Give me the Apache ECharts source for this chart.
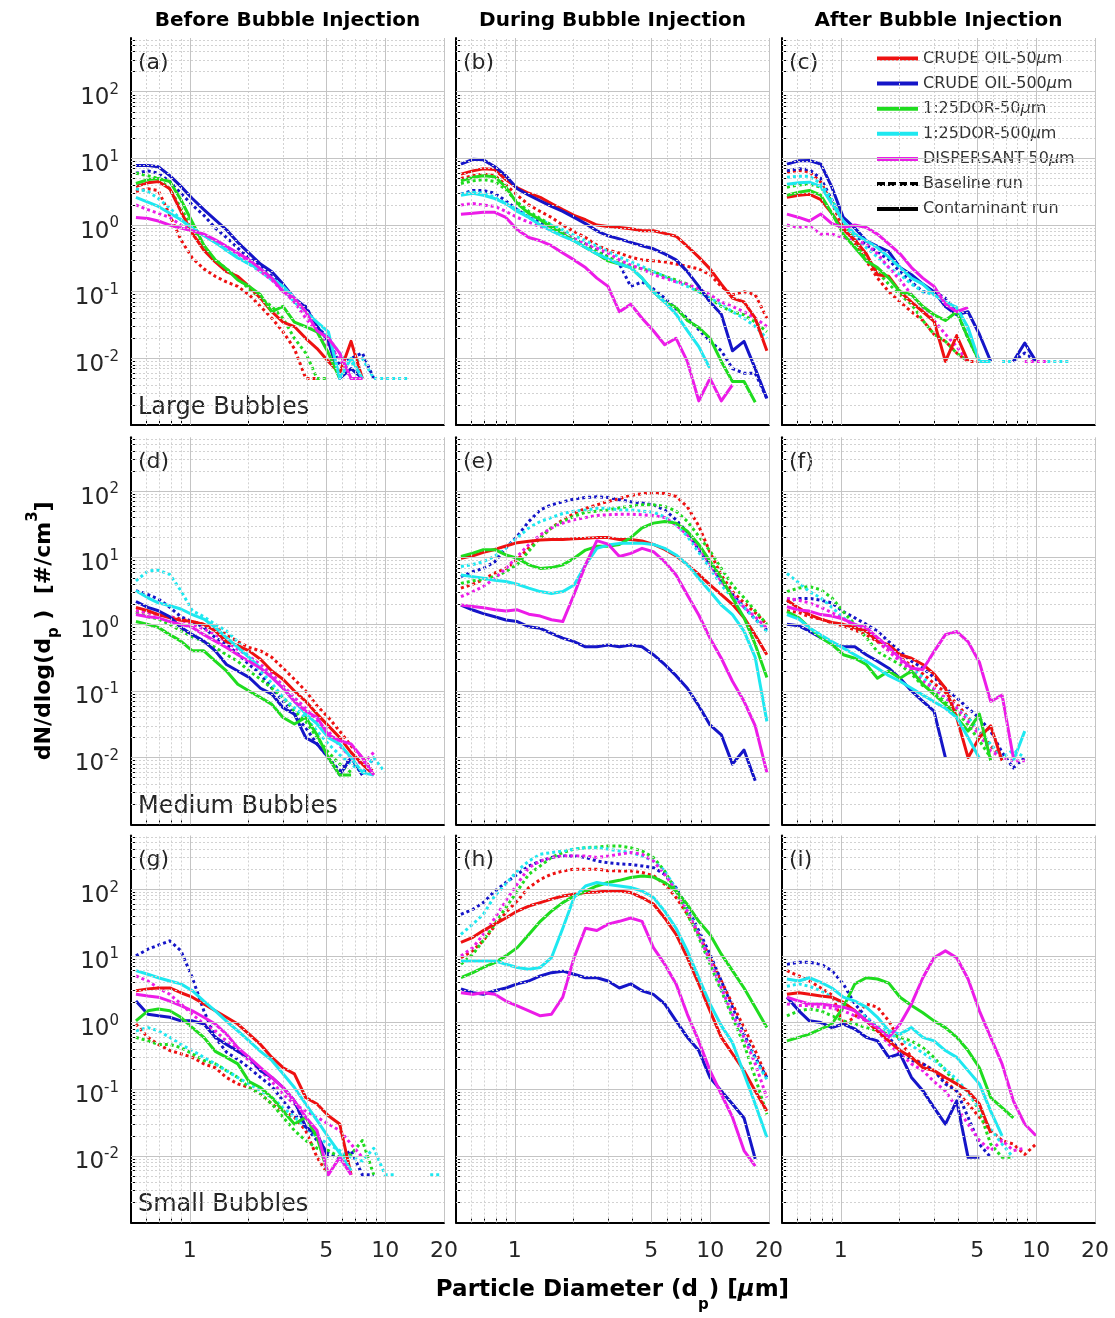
<!DOCTYPE html>
<html><head><meta charset="utf-8">
<script src="https://cdn.jsdelivr.net/npm/echarts@6/dist/echarts.min.js"></script>
<style>html,body{margin:0;padding:0;background:#fff}#c{width:1115px;height:1318px}</style>
</head><body><div id="c"></div>
<script>
// ---------- categories / labels ----------
const DP = [0.53,0.61,0.69,0.79,0.90,1.03,1.18,1.35,1.54,1.76,2.01,2.30,2.63,3.00,3.43,3.92,4.48,5.12,5.85,6.69,7.64,8.74,9.98,11.4,13.0,14.9,17.0,19.5];
const GROUPS = ['CRUDE OIL-50μm','CRUDE OIL-500μm','1:25DOR-50μm','1:25DOR-500μm','DISPERSANT-50μm'];
const COLORS = ['#ee1111','#1515c8','#1fdc1f','#1ee8f0','#ec1ce8'];
const PHASES = ['Before Bubble Injection','During Bubble Injection','After Bubble Injection'];
const SIZES = ['Large Bubbles','Medium Bubbles','Small Bubbles'];
const TAGS = ['(a)','(b)','(c)','(d)','(e)','(f)','(g)','(h)','(i)'];
const X_LABELS = [1,5,10,20];
const Y_LABELS = [0.01,0.1,1,10,100];
const X_RANGE = [0.5,20];
const Y_RANGE = [0.001,640];

// ---------- series values (order: red, blue, green, cyan, magenta) ----------
const A_BASE = [
 [3.2,3.5,3.3,1.4,0.6,0.32,0.22,0.17,0.14,0.12,0.09,0.06,0.04,0.025,0.014,0.005,0.005],
 [6,6.5,6,4.5,3,2,1.4,0.9,0.65,0.45,0.32,0.25,0.17,0.12,0.07,0.06,0.03,0.02,0.008,0.01,0.012,0.005],
 [6,5.5,5,3.5,1.8,0.9,0.45,0.3,0.22,0.16,0.11,0.08,0.06,0.04,0.02,0.012,0.005,0.005],
 [3.5,3.2,2.5,1.8,1.2,0.9,0.7,0.55,0.42,0.33,0.26,0.2,0.15,0.11,0.07,0.05,0.03,0.02,0.012,0.008,0.01,0.005,0.005,0.005,0.005],
 [2,1.7,1.5,1.3,1.0,0.85,0.7,0.55,0.45,0.37,0.28,0.2,0.15,0.1,0.07,0.04,0.025,0.015,0.01,0.005,0.005]
];
const A_CONT = [
 [3.8,4.3,4.5,3.5,1.6,0.75,0.42,0.28,0.2,0.17,0.12,0.08,0.05,0.035,0.03,0.02,0.014,0.009,0.006,0.018,0.005],
 [7.8,7.8,7.5,5.5,3.8,2.5,1.7,1.2,0.85,0.55,0.38,0.26,0.2,0.13,0.08,0.058,0.03,0.018,0.005,0.007,0.005],
 [4.2,4.8,5.0,4.5,2.4,1.1,0.5,0.3,0.22,0.15,0.12,0.09,0.05,0.06,0.035,0.03,0.025,0.012,0.005],
 [2.6,2.2,1.9,1.5,1.2,0.9,0.7,0.55,0.42,0.32,0.26,0.22,0.16,0.12,0.08,0.05,0.035,0.025,0.005,0.01,0.005],
 [1.3,1.25,1.15,1.0,0.9,0.82,0.73,0.6,0.48,0.38,0.3,0.22,0.16,0.1,0.08,0.05,0.026,0.02,0.012,0.005,0.005]
];
const B_BASE = [
 [5.0,5.5,5.8,5.5,4.0,2.8,2.0,1.6,1.3,1.0,0.8,0.65,0.5,0.42,0.38,0.33,0.3,0.29,0.28,0.26,0.24,0.22,0.18,0.12,0.09,0.1,0.09,0.04],
 [2.9,3.3,3.3,3.0,2.3,1.7,1.3,1.1,0.95,0.75,0.62,0.52,0.42,0.33,0.26,0.12,0.14,0.11,0.08,0.055,0.04,0.027,0.018,0.013,0.007,0.006,0.006,0.0025],
 [4.2,4.6,4.8,4.5,3.4,2.2,1.6,1.25,1.0,0.8,0.62,0.5,0.4,0.33,0.28,0.24,0.22,0.2,0.17,0.15,0.13,0.1,0.08,0.06,0.05,0.045,0.035,0.025],
 [2.9,3.1,3.0,2.6,2.1,1.7,1.4,1.2,1.0,0.85,0.7,0.58,0.48,0.4,0.33,0.28,0.24,0.2,0.17,0.14,0.12,0.1,0.08,0.065,0.05,0.04,0.03,0.02],
 [2.0,2.1,2.0,1.9,1.6,1.3,1.1,0.95,0.85,0.75,0.62,0.52,0.45,0.38,0.3,0.25,0.22,0.18,0.16,0.14,0.13,0.11,0.09,0.07,0.06,0.05,0.04,0.03]
];
const B_CONT = [
 [5.8,6.5,7.0,6.8,4.8,3.6,3.0,2.6,2.1,1.7,1.4,1.2,1.0,0.95,0.92,0.88,0.82,0.82,0.75,0.68,0.48,0.33,0.22,0.13,0.08,0.07,0.04,0.013],
 [8.2,9.7,9.5,7.5,5.5,3.5,2.8,2.3,1.9,1.6,1.3,1.05,0.82,0.69,0.62,0.55,0.49,0.44,0.37,0.3,0.2,0.12,0.07,0.046,0.013,0.018,0.007,0.0025],
 [4.6,5.2,5.5,5.3,3.7,2.1,1.5,1.2,0.92,0.73,0.58,0.46,0.37,0.29,0.26,0.23,0.16,0.1,0.07,0.058,0.037,0.029,0.02,0.009,0.0045,0.0045,0.0022],
 [2.8,3.0,2.8,2.5,2.1,1.6,1.3,1.0,0.82,0.68,0.58,0.46,0.37,0.31,0.26,0.23,0.16,0.1,0.07,0.046,0.026,0.015,0.007],
 [1.45,1.5,1.55,1.55,1.3,0.85,0.65,0.58,0.49,0.38,0.3,0.23,0.16,0.12,0.05,0.065,0.04,0.026,0.016,0.02,0.009,0.0023,0.005,0.0023,0.004]
];
const C_BASE = [
 [6.2,6.6,6.3,4.4,2.1,0.92,0.52,0.29,0.16,0.1,0.07,0.05,0.037,0.023,0.018,0.012,0.009,0.009],
 [6.5,7.0,6.8,5.0,2.4,1.1,0.7,0.5,0.4,0.3,0.2,0.14,0.1,0.1,0.08,0.05,0.02,0.009,null,null,0.009,0.012,0.009],
 [3.7,4.0,4.1,3.7,2.3,1.15,0.58,0.32,0.2,0.13,0.09,0.065,0.037,0.023,0.018,0.012,0.009],
 [5.2,5.4,5.4,4.2,2.4,1.15,0.62,0.46,0.33,0.23,0.18,0.13,0.1,0.09,0.07,0.046,0.023,0.009,null,0.009,0.009,null,null,0.009,0.009,0.009],
 [1.0,0.92,0.97,0.73,0.73,0.65,0.58,0.52,0.37,0.23,0.15,0.09,0.058,0.037,0.023,0.015,0.009,null,null,null,null,0.009,0.009,0.009]
];
const C_CONT = [
 [2.6,2.8,2.9,2.4,1.5,0.85,0.6,0.37,0.18,0.17,0.1,0.07,0.05,0.036,0.009,0.022,0.009],
 [8.2,9.2,9.3,8.2,3.7,1.3,0.9,0.58,0.48,0.4,0.23,0.18,0.13,0.1,0.06,0.045,0.05,0.023,0.009,null,0.009,0.017,0.009],
 [2.8,3.1,3.3,2.8,1.5,0.73,0.46,0.29,0.23,0.16,0.1,0.09,0.06,0.045,0.037,0.05,0.02,0.009],
 [4.1,4.3,4.4,3.8,2.1,1.15,0.73,0.58,0.46,0.33,0.23,0.16,0.13,0.09,0.07,0.058,0.029,0.009,0.009],
 [1.46,1.3,1.15,1.46,1.05,0.92,1.0,0.92,0.73,0.52,0.37,0.23,0.16,0.12,0.065,0.05,0.058]
];
const D_BASE = [
 [1.6,1.5,1.4,1.3,1.2,1.1,1.0,0.9,0.7,0.55,0.45,0.4,0.32,0.22,0.15,0.1,0.06,0.04,0.025,0.015,0.01,0.006],
 [3.2,2.8,2.4,1.8,1.3,1.1,0.9,0.63,0.5,0.36,0.25,0.18,0.11,0.07,0.045,0.028,0.016,0.01,0.0063,0.01,0.0055,0.01],
 [1.5,1.3,1.2,1.0,0.8,0.65,0.55,0.45,0.35,0.28,0.2,0.15,0.11,0.08,0.05,0.035,0.02,0.012,0.008,0.006],
 [4.5,6.3,6.5,5.6,3.2,1.6,1.3,1.0,0.8,0.55,0.32,0.2,0.13,0.08,0.056,0.04,0.025,0.016,0.011,0.008,0.006,0.01,0.006],
 [1.6,1.5,1.4,1.3,1.15,1.0,0.85,0.7,0.55,0.42,0.33,0.25,0.18,0.12,0.08,0.055,0.035,0.025,0.015,0.01,0.008,0.012]
];
const D_CONT = [
 [1.8,1.6,1.4,1.25,1.15,1.1,1.0,0.8,0.55,0.48,0.4,0.3,0.2,0.15,0.1,0.07,0.045,0.03,0.02,0.012,0.008,0.0055],
 [2.2,1.8,1.6,1.3,0.9,0.7,0.56,0.4,0.25,0.2,0.16,0.11,0.09,0.056,0.045,0.02,0.016,0.01,0.0055,0.01,0.0055],
 [1.1,1.0,0.9,0.7,0.56,0.4,0.4,0.28,0.2,0.126,0.1,0.08,0.063,0.04,0.032,0.04,0.022,0.01,0.0055,0.0055],
 [3.2,2.5,2.1,1.9,1.7,1.4,1.2,0.9,0.63,0.45,0.32,0.22,0.16,0.11,0.07,0.045,0.032,0.02,0.016,0.01,0.006,0.0055],
 [1.4,1.3,1.25,1.1,1.0,0.9,0.7,0.56,0.45,0.35,0.28,0.22,0.16,0.11,0.07,0.05,0.04,0.022,0.018,0.016,0.01,0.0055]
];
const E_BASE = [
 [3.5,4.0,4.7,5.9,6.9,9.4,14,20,28,37,46,55,62,70,77,86,91,94,92,83,58,30,12,5.5,3.1,2.1,1.5,1.0],
 [5.2,6.2,6.9,8.7,14,21,35,52,62,69,76,80,82,80,74,69,66,62,52,37,24,13,7.8,4.4,2.8,1.8,1.2,0.82],
 [4.1,4.5,4.7,5.2,6.2,7.9,12.6,20,28,35,42,48,50,52,56,59,62,62,59,50,35,21,12.6,6.9,3.9,2.5,1.6,1.0],
 [7.4,7.9,8.7,10.5,14,20,28,35,40,46,50,52,55,55,52,52,50,48,41,31,21,12,6.9,3.9,2.5,1.8,1.2,0.77],
 [2.6,3.1,3.7,4.9,6.9,10.4,15.8,22,28,33,37,40,43,44,45,45,44,43,40,31,22,14,7.9,4.4,2.8,1.8,1.3,0.87]
];
const E_CONT = [
 [9.8,10.7,12,13.3,15,16.8,17.6,18.4,18.8,18.8,19.3,19.5,20,20,18.8,18.8,17.8,15.8,13.3,10.6,7.9,5.6,3.9,2.8,2.0,1.26,0.69,0.35],
 [1.95,1.64,1.45,1.3,1.16,1.1,0.92,0.87,0.73,0.62,0.55,0.46,0.46,0.49,0.46,0.49,0.46,0.35,0.25,0.17,0.11,0.06,0.031,0.022,0.008,0.013,0.0045],
 [10.4,11.7,13.2,13.2,11,9.8,7.8,6.9,7.1,7.8,9.8,13,14.8,14.8,15.8,20,28,33,35,33,25,15.8,8.9,5.0,2.5,1.26,0.5,0.16],
 [5.5,5.2,4.9,4.6,4.4,4.0,3.5,3.1,2.9,3.1,3.9,7.8,13.8,15.5,16.4,16.4,16.4,15.8,13.8,11,7.8,4.9,3.1,1.95,1.4,0.79,0.32,0.035],
 [1.95,1.85,1.78,1.65,1.58,1.65,1.42,1.33,1.17,1.1,2.8,7.8,18,16,10.4,11.6,13.8,12.3,8.7,5.5,2.75,1.38,0.62,0.31,0.14,0.07,0.03,0.006]
];
const F_BASE = [
 [1.6,1.5,1.3,1.2,1.05,0.95,0.82,0.7,0.55,0.42,0.32,0.24,0.18,0.13,0.095,0.065,0.04,0.025,0.015,0.01],
 [2.2,2.45,2.45,2.3,2.1,1.55,1.25,1.0,0.79,0.55,0.39,0.28,0.22,0.16,0.11,0.079,0.055,0.039,0.025,0.012,0.007,0.01],
 [3.1,3.5,3.7,3.3,2.5,1.55,1.0,0.63,0.39,0.31,0.25,0.18,0.12,0.1,0.07,0.049,0.031,0.018,0.01],
 [5.8,4.2,3.1,2.5,1.8,1.25,1.0,0.79,0.63,0.45,0.31,0.22,0.16,0.11,0.079,0.056,0.04,0.025,0.016,0.01,0.013,0.01],
 [2.45,2.3,2.1,1.8,1.5,1.2,0.95,0.79,0.56,0.39,0.28,0.2,0.14,0.11,0.079,0.056,0.035,0.022,0.0126,0.01,0.009,0.009]
];
const F_CONT = [
 [2.3,1.75,1.4,1.2,1.07,1.0,0.89,0.79,0.56,0.49,0.35,0.31,0.25,0.18,0.11,0.04,0.01,0.02,0.03,0.009],
 [1.0,0.95,0.79,0.63,0.52,0.46,0.46,0.35,0.28,0.22,0.155,0.1,0.07,0.05,0.01],
 [1.55,1.25,0.89,0.63,0.5,0.35,0.31,0.25,0.155,0.2,0.155,0.2,0.126,0.089,0.063,0.04,0.025,0.045,0.009],
 [1.4,1.2,0.89,0.69,0.55,0.44,0.35,0.28,0.22,0.17,0.14,0.11,0.087,0.069,0.055,0.04,0.02,0.0098,null,null,0.009,0.025],
 [1.84,1.64,1.58,1.4,1.33,1.2,1.0,0.89,0.63,0.45,0.31,0.22,0.21,0.39,0.7,0.78,0.55,0.27,0.07,0.087,0.01]
];
const G_BASE = [
 [0.95,0.6,0.47,0.38,0.34,0.3,0.24,0.21,0.15,0.12,0.106,0.084,0.06,0.047,0.038,0.024,0.0095,0.0052],
 [10,12.6,14.5,16.8,12,4.7,1.5,0.6,0.36,0.28,0.21,0.15,0.11,0.067,0.042,0.027,0.017,0.011,0.009,0.012,0.0052,0.0052],
 [0.6,0.53,0.47,0.47,0.42,0.34,0.27,0.24,0.19,0.15,0.106,0.084,0.06,0.038,0.024,0.017,0.013,0.012,0.0095,0.0105,0.017,0.0052],
 [0.75,0.84,0.75,0.6,0.47,0.38,0.3,0.24,0.19,0.15,0.12,0.095,0.075,0.053,0.038,0.027,0.019,0.015,0.012,0.0095,0.0084,0.013,0.0052,0.0052,null,null,0.0052,0.0052],
 [5,4.2,3.3,2.65,1.9,1.33,0.95,0.75,0.53,0.38,0.27,0.19,0.13,0.084,0.06,0.047,0.038,0.03,0.024,0.015,0.0095]
];
const G_CONT = [
 [3.0,3.2,3.3,3.3,2.8,2.4,1.9,1.5,1.2,0.95,0.67,0.47,0.3,0.21,0.17,0.075,0.06,0.04,0.03,0.0052],
 [2.1,1.33,1.26,1.2,1.06,1.06,0.95,0.6,0.47,0.37,0.3,0.19,0.15,0.106,0.067,0.027,0.021,0.0095],
 [1.06,1.5,1.6,1.5,1.2,0.84,0.6,0.37,0.3,0.24,0.13,0.106,0.075,0.047,0.03,0.038,0.019,0.0052],
 [6,5.3,4.7,4.2,3.8,3.0,2.1,1.5,1.05,0.75,0.53,0.37,0.27,0.17,0.106,0.06,0.034,0.019,0.011,0.006],
 [2.65,2.5,2.4,2.1,1.8,1.5,1.2,0.95,0.67,0.42,0.3,0.21,0.15,0.106,0.067,0.038,0.024,0.0052,0.0095,0.0052]
];
const H_BASE = [
 [9.4,12,17,28,45,67,106,140,168,188,200,200,200,190,188,188,178,160,119,75,42,21,9.4,4.2,1.9,0.84,0.38,0.15],
 [42,50,63,94,126,167,223,265,300,316,316,300,265,250,240,235,224,211,167,105,53,24,10.6,4.2,1.7,0.67,0.3,0.15],
 [7.5,10.6,17,30,53,94,168,224,300,355,400,420,430,445,445,420,375,300,188,94,42,19,7.5,3.0,1.2,0.47,0.15,0.042],
 [21,30,42,80,120,190,265,335,355,375,400,420,420,400,375,355,316,265,190,100,50,21,8.4,3.3,1.33,0.6,0.28,0.14],
 [10,13.3,21,37,67,120,210,265,300,315,315,315,300,315,335,355,335,265,167,94,47,21,8.4,3.3,1.33,0.6,0.24,0.075]
];
const H_CONT = [
 [16,19,24,30,37,47,56,63,71,79,84,89,91,94,94,89,75,60,37,21,9.4,3.8,1.5,0.6,0.34,0.19,0.094,0.047],
 [3.2,2.8,2.65,3.0,3.3,3.8,4.2,5.0,5.6,5.9,5.3,4.7,4.7,4.2,3.3,3.8,3.0,2.65,1.9,1.06,0.6,0.38,0.15,0.094,0.06,0.037,0.009],
 [4.7,5.6,6.7,7.9,10,13.3,21,33,47,63,79,94,112,126,136,150,158,152,126,94,59,33,21,10.6,6.0,3.3,1.7,0.84],
 [8.4,8.4,8.4,8.4,7.5,6.7,6.3,6.7,9.4,26,75,112,126,118,112,106,94,75,47,26,11.9,4.7,1.9,0.9,0.5,0.17,0.06,0.019],
 [2.8,2.65,2.8,2.65,2.1,1.78,1.5,1.26,1.33,2.4,9.4,26,24,30,33,37,33,13.3,7.5,3.8,1.33,0.53,0.19,0.084,0.038,0.012,0.007]
];
const I_BASE = [
 [6,5,4.2,3.3,2.6,0.95,1.2,1.9,1.7,1.06,0.53,0.3,0.24,0.19,0.13,0.094,0.06,0.038,0.024,0.017,0.015,0.0105,0.015],
 [7.5,8,8,7.5,6,3.8,1.9,1.2,0.84,0.6,0.38,0.27,0.24,0.19,0.12,0.094,0.038,0.015,0.0095],
 [1.26,1.5,1.6,1.5,1.26,1.06,0.95,0.84,0.75,0.67,0.6,0.53,0.42,0.3,0.19,0.12,0.094,0.047,0.015,0.0095,0.0095],
 [3.5,3.8,3.5,3.0,2.4,1.9,1.5,1.2,0.9,0.7,0.55,0.45,0.35,0.27,0.2,0.14,0.09,0.05,0.025,0.015,0.0095],
 [1.9,1.8,1.8,1.7,1.65,1.5,1.26,1.06,0.75,0.47,0.34,0.24,0.19,0.13,0.094,0.053,0.03,0.017,0.012,0.017,0.012,0.013]
];
const I_CONT = [
 [2.65,2.8,2.65,2.5,2.4,2.0,1.5,1.06,0.75,0.53,0.38,0.3,0.21,0.19,0.15,0.12,0.094,0.06,0.022],
 [2.4,1.5,1.06,1.0,0.84,0.95,0.8,0.6,0.53,0.3,0.34,0.15,0.095,0.053,0.03,0.067,0.0095,0.0095],
 [0.53,0.6,0.67,0.8,0.95,1.7,3.8,4.7,4.5,3.9,2.4,1.8,1.4,1.06,0.84,0.6,0.38,0.21,0.075,0.053,0.037],
 [4.5,4.2,4.7,4.0,3.3,2.4,2.1,1.7,1.2,0.75,0.67,0.84,0.6,0.53,0.38,0.3,0.19,0.12,0.047,0.02],
 [2.4,2.1,1.9,1.9,1.8,1.7,1.5,1.06,0.84,0.6,0.95,1.9,4.7,9.4,11.9,9.4,4.5,1.5,0.6,0.24,0.067,0.03,0.02]
];
const PANELS = [[A_BASE,A_CONT],[B_BASE,B_CONT],[C_BASE,C_CONT],[D_BASE,D_CONT],[E_BASE,E_CONT],[F_BASE,F_CONT],[G_BASE,G_CONT],[H_BASE,H_CONT],[I_BASE,I_CONT]];

// ---------- layout ----------
const GL = [131,456,782], GT = [38,437.3,835.5], GW = 313, GH = 387;
const FONT = 'DejaVu Sans';

// gridline / tick positions (axis furniture)
const X_MAJOR = [1,5,10,20];
const X_MINOR = [0.6,0.7,0.8,0.9,2,3,4,6,7,8,9];
const Y_MAJOR = [0.01,0.1,1,10,100];
const Y_MINOR = [];
[0.001,0.01,0.1,1,10,100].forEach(d => { for (let m = 2; m <= 9; m++) { const v = +(m*d).toPrecision(3); if (v < Y_RANGE[1]) Y_MINOR.push(v); } });
const X_TICKS = X_MINOR.concat([1,5,10,20]).sort((a,b)=>a-b);
const Y_TICKS = Y_MINOR.concat(Y_MAJOR).sort((a,b)=>a-b);

const grids = [], xAxes = [], yAxes = [], series = [], graphics = [];
const majorStyle = {color:'#c4c4c4', width:1, type:'solid'};
const minorStyle = {color:'#d2d2d2', width:1, type:[2,2]};

for (let r = 0; r < 3; r++) for (let c = 0; c < 3; c++) {
  const idx = r*3 + c;
  grids.push({left: GL[c], top: GT[r], width: GW, height: GH, containLabel: false});
  const xa = {
    type:'log', logBase:10, gridIndex: idx, min: X_RANGE[0], max: X_RANGE[1], position:'bottom',
    axisLine:{show:true, onZero:false, lineStyle:{color:'#000', width:2}},
    axisTick:{show:true, inside:true, length:4, customValues: X_TICKS, lineStyle:{color:'#000', width:1}},
    axisLabel:{show: r === 2, customValues: X_LABELS, margin:18, fontFamily: FONT, fontSize:22, lineHeight:22, color:'#262626',
      formatter: v => String(Math.round(v))},
    splitLine:{show:false}, minorTick:{show:false}, minorSplitLine:{show:false}
  };
  if (idx === 7) {
    Object.assign(xa, {
      name: 'Particle Diameter (d{sub|p}) [{i|μ}m]', nameLocation:'middle', nameGap:56,
      nameTextStyle:{fontFamily: FONT, fontWeight:'bold', fontSize:23, lineHeight:24, color:'#000',
        rich:{sub:{fontFamily: FONT, fontWeight:'bold', fontSize:15, lineHeight:15, verticalAlign:'top', padding:[19,0,0,0], color:'#000'},
              i:{fontFamily: FONT, fontWeight:'bold', fontStyle:'italic', fontSize:23, lineHeight:24, color:'#000'}}}
    });
  }
  xAxes.push(xa);
  const ya = {
    type:'log', logBase:10, gridIndex: idx, min: Y_RANGE[0], max: Y_RANGE[1], position:'left',
    axisLine:{show:true, onZero:false, lineStyle:{color:'#000', width:2}},
    axisTick:{show:true, inside:true, length:4, customValues: Y_TICKS, lineStyle:{color:'#000', width:1}},
    axisLabel:{show: c === 0, customValues: Y_LABELS, margin:12, padding:[13,0,0,0],
      formatter: v => '{b|10}{s|' + Math.round(Math.log10(v)) + '}',
      rich:{b:{fontFamily: FONT, fontSize:23, lineHeight:31, color:'#262626'},
            s:{fontFamily: FONT, fontSize:15, lineHeight:15, verticalAlign:'top', color:'#262626'}}},
    splitLine:{show:false}, minorTick:{show:false}, minorSplitLine:{show:false}
  };
  if (idx === 3) {
    Object.assign(ya, {
      name: 'dN/dlog(d{sub|p} )  [#/cm{sup|3}]', nameLocation:'middle', nameGap:69, nameRotate:90,
      nameTextStyle:{fontFamily: FONT, fontWeight:'bold', fontSize:22, lineHeight:36, color:'#000',
        rich:{sub:{fontFamily: FONT, fontWeight:'bold', fontSize:15, lineHeight:15, verticalAlign:'top', padding:[21,0,0,0], color:'#000'},
              sup:{fontFamily: FONT, fontWeight:'bold', fontSize:15, lineHeight:15, verticalAlign:'top', color:'#000'}}}
    });
  }
  yAxes.push(ya);

  // grid lines as mark lines through the axes
  const ml = [];
  Y_MINOR.forEach(v => ml.push({yAxis: v, lineStyle: minorStyle}));
  X_MINOR.forEach(v => ml.push({xAxis: v, lineStyle: minorStyle}));
  Y_MAJOR.forEach(v => ml.push({yAxis: v, lineStyle: majorStyle}));
  X_MAJOR.forEach(v => ml.push({xAxis: v, lineStyle: majorStyle}));
  series.push({type:'line', name:'grid'+idx, xAxisIndex: idx, yAxisIndex: idx, data: [], silent:true, z:1,
    markLine:{silent:true, precision:8, symbol:['none','none'], label:{show:false}, emphasis:{disabled:true}, animation:false, data: ml}});

  const [base, cont] = PANELS[idx];
  const mk = (vals, g, dashed) => ({
    type:'line', name: dashed ? GROUPS[g] + ' baseline' : GROUPS[g], xAxisIndex: idx, yAxisIndex: idx,
    data: DP.map((x, i) => [x, vals[i] == null ? null : vals[i]]),
    color: COLORS[g], symbol:'none', showSymbol:false, silent:true, connectNulls:false,
    lineStyle:{color: COLORS[g], width:3, type: dashed ? [3,3] : 'solid', cap:'butt', join:'round'},
    z: dashed ? 2 : 3
  });
  base.forEach((vals, g) => series.push(mk(vals, g, true)));
  cont.forEach((vals, g) => series.push(mk(vals, g, false)));

  graphics.push({type:'text', x: GL[c] + 7, y: GT[r] + 25, silent:true,
    style:{text: TAGS[idx], fontFamily: FONT, fontSize:22, fill:'#262626', align:'left', verticalAlign:'middle'}});
}
// dummy series for style legend entries
series.push({type:'line', name:'Baseline run', data:[], xAxisIndex:2, yAxisIndex:2, color:'#000', symbol:'none', lineStyle:{color:'#000', width:3, type:[3,3]}});
series.push({type:'line', name:'Contaminant run', data:[], xAxisIndex:2, yAxisIndex:2, color:'#000', symbol:'none', lineStyle:{color:'#000', width:3}});

PHASES.forEach((t, c) => graphics.push({type:'text', x: GL[c] + GW/2, y: 21, silent:true,
  style:{text: t, fontFamily: FONT, fontWeight:'bold', fontSize:20, fill:'#000', align:'center', verticalAlign:'middle'}}));
SIZES.forEach((t, r) => graphics.push({type:'text', x: GL[0] + 7, y: GT[r] + GH - 17.5, silent:true,
  style:{text: t, fontFamily: FONT, fontSize:24, fill:'#262626', align:'left', verticalAlign:'middle'}}));

const DASH_ICON = 'path://M0,0h8v4h-8z M11,0h8v4h-8z M22,0h8v4h-8z M33,0h8v4h-8z';
const chart = echarts.init(document.getElementById('c'), null, {renderer:'canvas'});
chart.setOption({
  animation:false,
  backgroundColor:'#fff',
  textStyle:{fontFamily: FONT},
  grid: grids, xAxis: xAxes, yAxis: yAxes, series: series, graphic: graphics,
  legend:{
    left:877, top:50, orient:'vertical', padding:0, itemWidth:41, itemHeight:4, itemGap:8.1, selectedMode:false,
    textStyle:{fontFamily: FONT, fontSize:16, lineHeight:17, color:'#333',
      rich:{i:{fontFamily: FONT, fontSize:16, lineHeight:17, fontStyle:'italic', color:'#333'}}},
    formatter: n => n.replace('μ', '{i|μ}'),
    data: GROUPS.map(g => ({name: g, icon:'rect'})).concat([{name:'Baseline run', icon: DASH_ICON}, {name:'Contaminant run', icon:'rect'}])
  }
});
</script></body></html>
